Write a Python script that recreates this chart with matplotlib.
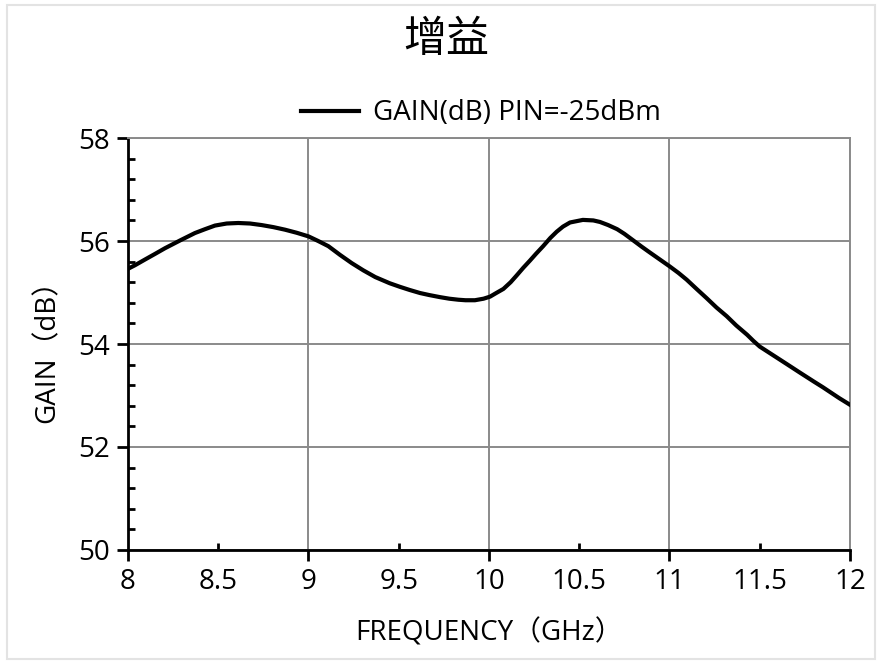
import numpy as np
import matplotlib
matplotlib.use('Agg')
from matplotlib import pyplot as plt
from matplotlib.ticker import FixedLocator, FixedFormatter, MultipleLocator
from matplotlib.patches import Rectangle

plt.rcParams['font.family'] = ['Open Sans', 'Noto Sans CJK SC', 'DejaVu Sans']

# values
freq = [8.0, 8.039, 8.094, 8.15, 8.205, 8.288, 8.371, 8.427, 8.482, 8.547,
        8.611, 8.676, 8.74, 8.805, 8.87, 8.935, 9.0, 9.054, 9.11, 9.175,
        9.24, 9.304, 9.37, 9.45, 9.507, 9.56, 9.618, 9.67, 9.729, 9.78,
        9.83, 9.87, 9.922, 9.97, 10.006, 10.04, 10.08, 10.12, 10.153, 10.19,
        10.227, 10.26, 10.30, 10.34, 10.375, 10.41, 10.449, 10.52, 10.578, 10.615,
        10.66, 10.71, 10.75, 10.80, 10.846, 10.89, 10.947, 11.0, 11.05, 11.095,
        11.15, 11.206, 11.26, 11.317, 11.37, 11.43, 11.465, 11.50, 11.575, 11.65,
        11.72, 11.80, 11.85, 11.91, 11.94, 12.0]
gain = [55.46, 55.53, 55.64, 55.75, 55.86, 56.01, 56.155, 56.23, 56.30, 56.34,
        56.35, 56.34, 56.31, 56.27, 56.22, 56.16, 56.09, 56.0, 55.90, 55.73,
        55.57, 55.43, 55.30, 55.18, 55.11, 55.05, 54.99, 54.95, 54.91, 54.88,
        54.86, 54.85, 54.85, 54.88, 54.92, 54.99, 55.07, 55.20, 55.33, 55.48,
        55.62, 55.75, 55.90, 56.06, 56.18, 56.28, 56.36, 56.41, 56.40, 56.37,
        56.31, 56.23, 56.14, 56.01, 55.89, 55.78, 55.64, 55.51, 55.38, 55.25,
        55.07, 54.89, 54.71, 54.54, 54.36, 54.18, 54.06, 53.95, 53.78, 53.61,
        53.45, 53.27, 53.16, 53.02, 52.95, 52.82]

xmajor = [8, 9, 10, 11, 12]
xminor = [8.5, 9.5, 10.5, 11.5]
ymajor = [50, 52, 54, 56, 58]

fig = plt.figure(figsize=(8.82, 6.62), dpi=100)
fig.patches.append(Rectangle((0.008, 0.005), 0.984, 0.988, transform=fig.transFigure,
                             fill=False, edgecolor='#e3e3e3', linewidth=1.5))
ax = fig.add_axes([0.1451, 0.1692, 0.8186, 0.6223])

ax.plot(freq, gain, color='black', linewidth=3, label='GAIN(dB) PIN=-25dBm',
        solid_joinstyle='round', zorder=3)
ax.set_xlim(8, 12)
ax.set_ylim(50, 58)

ax.xaxis.set_major_locator(FixedLocator(xmajor))
ax.xaxis.set_major_formatter(FixedFormatter([str(v) for v in xmajor]))
ax.xaxis.set_minor_locator(FixedLocator(xminor))
ax.xaxis.set_minor_formatter(FixedFormatter([str(v) for v in xminor]))
ax.yaxis.set_major_locator(FixedLocator(ymajor))
ax.yaxis.set_minor_locator(MultipleLocator(0.4))

ax.tick_params(axis='both', which='major', direction='out', length=8, width=2,
               labelsize=20, pad=5, color='black')
ax.tick_params(axis='x', which='minor', direction='in', length=5, width=2,
               labelsize=20, pad=13)
ax.tick_params(axis='y', which='minor', direction='in', length=5, width=2)

ax.grid(True, which='major', color='#8a8a8a', linewidth=1.4)
for s in ['left', 'bottom']:
    ax.spines[s].set_linewidth(2)
    ax.spines[s].set_color('black')
for s in ['top', 'right']:
    ax.spines[s].set_linewidth(1.4)
    ax.spines[s].set_color('#8a8a8a')

ax.set_xlabel('FREQUENCY（GHz）', fontsize=20, labelpad=17)
ax.set_ylabel('GAIN（dB）', fontsize=20, labelpad=12)

ax.legend(loc='center', bbox_to_anchor=(0.489, 1.06), frameon=False,
          fontsize=20, handlelength=2.1, handletextpad=0.5, borderaxespad=0)
fig.text(0.506, 0.94, '增益', ha='center', va='center', fontsize=31,
         family=['Noto Sans CJK SC', 'DejaVu Sans'])

fig.savefig('out.png', dpi=100)
